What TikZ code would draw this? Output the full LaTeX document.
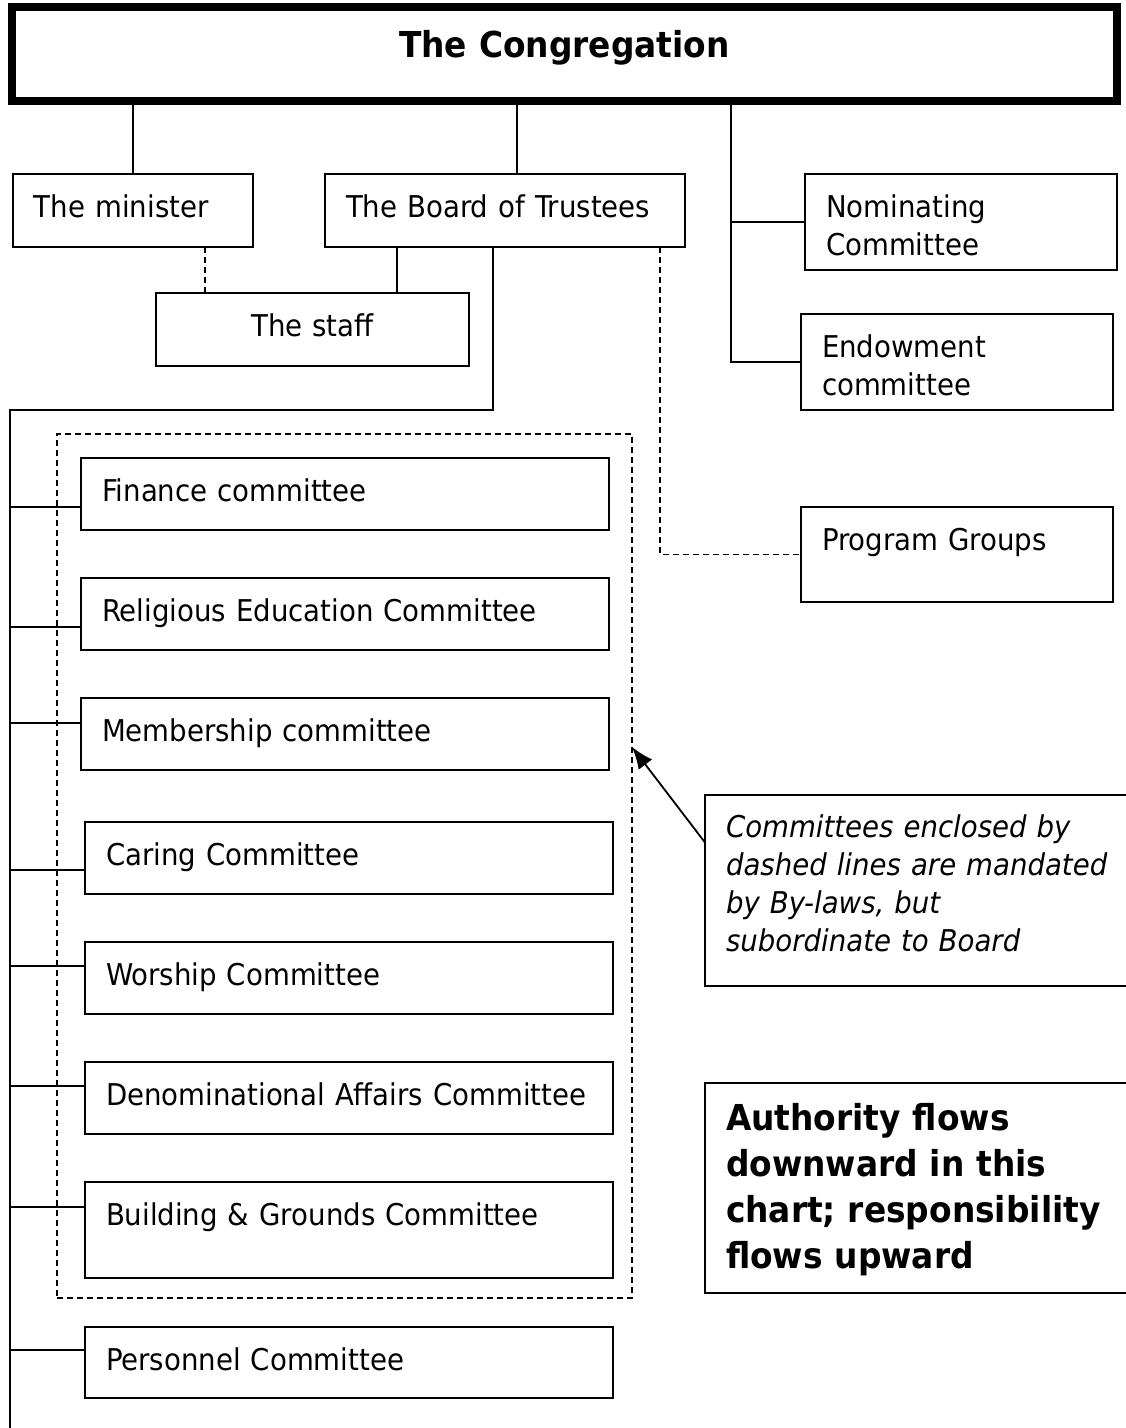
\documentclass[tikz,border=0pt]{standalone}
\usepackage{fontspec}
\setmainfont{DejaVu Sans}[FakeStretch=0.92]
\usetikzlibrary{arrows.meta}

\tikzset{
  orgbox/.style 2 args={draw, line width=2pt, anchor=north west, outer sep=0pt,
    inner xsep=21pt, inner ysep=0pt, align=left, text width=#1,
    text height=43pt, text depth=#2, font=\fontsize{30}{38}\selectfont},
  link/.style={line width=1.8pt},
  dotlink/.style={line width=1.8pt, dash pattern=on 6pt off 4pt}
}

\begin{document}
\begin{tikzpicture}[x=1pt,y=-1pt]
  \useasboundingbox (0,0) rectangle (1126,1428);

  % dashed frame round the by-law committees
  \node[draw, dotlink, anchor=north west, outer sep=0pt, inner sep=0pt,
        minimum width=575pt, minimum height=864pt] (mand) at (57,434) {};

  \node[orgbox={1105pt}{44pt}, line width=8pt, inner xsep=0pt, align=center,
        text height=50pt, font=\fontsize{35.7}{46}\bfseries] (cong) at (12,7) {The Congregation};

  \node[orgbox={198pt}{30pt}] (mini)  at (13,174)  {The minister};
  \node[orgbox={318pt}{30pt}] (board) at (325,174) {The Board of Trustees};
  \node[orgbox={271pt}{30pt}, align=center] (staff) at (156,293) {The staff};

  \node[orgbox={270pt}{53pt}] (nomin) at (805,174) {Nominating\\Committee};
  \node[orgbox={270pt}{53pt}] (endow) at (801,314) {Endowment\\committee};
  \node[orgbox={270pt}{52pt}] (prog)  at (801,507) {Program Groups};

  \node[orgbox={486pt}{29pt}] (fin)     at (81,458)  {Finance committee};
  \node[orgbox={486pt}{29pt}] (relig)   at (81,578)  {Religious Education Committee};
  \node[orgbox={486pt}{29pt}] (member)  at (81,698)  {Membership committee};
  \node[orgbox={486pt}{29pt}] (caring)  at (85,822)  {Caring Committee};
  \node[orgbox={486pt}{29pt}] (worship) at (85,942)  {Worship Committee};
  \node[orgbox={486pt}{29pt}] (denom)   at (85,1062) {Denominational Affairs Committee};
  \node[orgbox={486pt}{53pt}] (build)   at (85,1182) {Building \& Grounds Committee};
  \node[orgbox={486pt}{28pt}] (person)  at (85,1327) {Personnel Committee};

  \node[orgbox={408pt}{149pt}, text height=42pt, font=\fontsize{30}{38}\itshape] (note) at (705,795)
    {Committees enclosed by\\dashed lines are mandated\\by By-laws, but\\subordinate to Board};
  \node[orgbox={408pt}{163pt}, text height=47pt, font=\fontsize{35.7}{46}\bfseries] (auth) at (705,1083)
    {Authority flows\\downward in this\\chart; responsibility\\flows upward};

  \coordinate (rbus) at (731,0);
  \coordinate (lbus) at (10,410);
  \coordinate (lend) at (10,1428);
  \coordinate (tip)  at (632,747);

  % lines out of the congregation
  \draw[link] (cong.south -| mini.north) -- (mini.north);
  \draw[link] ([xshift=12]board.north |- cong.south) -- ([xshift=12]board.north);
  \draw[link] (rbus |- cong.south) -- (rbus |- endow.west) -- (endow.west);
  \draw[link] (rbus |- nomin.west) -- (nomin.west);

  % staff
  \draw[dotlink] ([xshift=72]mini.south) -- ([xshift=72]mini.south |- staff.north);
  \draw[link] ([xshift=-108]board.south) -- ([xshift=-108]board.south |- staff.north);

  % board down to the committees
  \draw[dotlink] ([xshift=155]board.south) |- (prog.west);
  \draw[link] ([xshift=-12]board.south) |- (lbus) -- (lend);
  \foreach \n/\off in {fin/49, relig/49, member/25, caring/48, worship/24, denom/24, build/25, person/23}
    \draw[link] ([yshift=-\off]\n.north west) coordinate (c) -- (c -| lbus);

  \draw[link, -{Latex[length=22pt,width=17pt]}] ([yshift=48]note.west) -- (tip);
\end{tikzpicture}
\end{document}
